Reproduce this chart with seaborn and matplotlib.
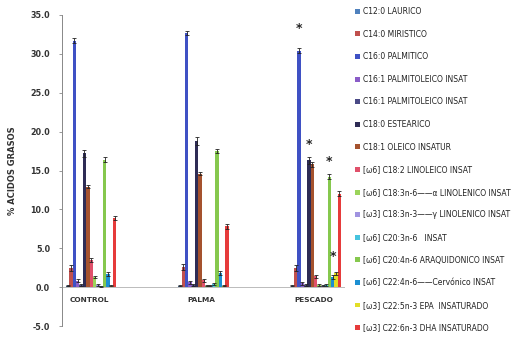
import pandas as pd
import numpy as np
import matplotlib
matplotlib.use('Agg')
import matplotlib.pyplot as plt
import seaborn as sns

# data
grupos = ['CONTROL', 'PALMA', 'PESCADO']

acidos = ['C12:0 LAURICO',
          'C14:0 MIRISTICO',
          'C16:0 PALMITICO',
          'C16:1 PALMITOLEICO INSAT',
          'C16:1 PALMITOLEICO INSAT ',
          'C18:0 ESTEARICO',
          'C18:1 OLEICO INSATUR',
          '[ω6] C18:2 LINOLEICO INSAT',
          '[ω6] C18:3n-6——α LINOLENICO INSAT',
          '[ω3] C18:3n-3——γ LINOLENICO INSAT',
          '[ω6] C20:3n-6   INSAT',
          '[ω6] C20:4n-6 ARAQUIDONICO INSAT',
          '[ω6] C22:4n-6——Cervónico INSAT',
          '[ω3] C22:5n-3 EPA  INSATURADO',
          '[ω3] C22:6n-3 DHA INSATURADO']

colores = ['#4F81BD', '#C0504D', '#3F51C4', '#8A5CC8', '#4A4A86',
           '#2E2C55', '#A5522E', '#E0506A', '#9BD45A', '#A093E0',
           '#46C3DE', '#86C84E', '#1C8FD2', '#E2DE26', '#E63B3B']

control = [0.2, 2.5, 31.7, 0.8, 0.3, 17.2, 12.9, 3.5, 1.3, 0.3, 0.1, 16.4, 1.7, 0.2, 8.9]
palma = [0.2, 2.6, 32.7, 0.6, 0.3, 18.8, 14.6, 0.9, 0.2, 0.2, 0.4, 17.5, 1.8, 0.2, 7.8]
pescado = [0.2, 2.5, 30.4, 0.5, 0.3, 16.3, 15.8, 1.4, 0.3, 0.2, 0.3, 14.2, 1.3, 1.8, 12.0]

err_control = [0.1, 0.4, 0.3, 0.2, 0.1, 0.5, 0.2, 0.3, 0.1, 0.1, 0.1, 0.3, 0.3, 0.1, 0.3]
err_palma = [0.1, 0.4, 0.3, 0.2, 0.1, 0.5, 0.2, 0.2, 0.1, 0.1, 0.1, 0.3, 0.3, 0.1, 0.3]
err_pescado = [0.1, 0.4, 0.3, 0.2, 0.1, 0.5, 0.3, 0.2, 0.1, 0.1, 0.1, 0.3, 0.3, 0.2, 0.3]

# series of PESCADO marked with an asterisk, and where the star sits
estrellas = {2: 33.3, 5: 18.3, 11: 16.1, 12: 4.0}

valores = [control, palma, pescado]
errores = [err_control, err_palma, err_pescado]

rows = []
for g, vals, errs in zip(grupos, valores, errores):
    for a, v, e in zip(acidos, vals, errs):
        rows.append({'grupo': g, 'acido': a, 'valor': v, 'err': e})
df = pd.DataFrame(rows)

sns.set_style('white')
plt.rcParams['font.family'] = ['DejaVu Sans']

fig = plt.figure(figsize=(5.15, 3.39), dpi=100)
ax = fig.add_axes([62 / 515, 13 / 339, 283 / 515, 311 / 339])

sns.barplot(data=df, x='grupo', y='valor', hue='acido', hue_order=acidos,
            order=grupos, palette=colores, width=0.45, errorbar=None,
            saturation=1, linewidth=0, ax=ax)

# error bars and asterisks, placed from the drawn bars
for k, a in enumerate(acidos):
    for j, g in enumerate(grupos):
        p = ax.containers[k][j]
        xc = p.get_x() + p.get_width() / 2
        v = valores[j][k]
        e = errores[j][k]
        ax.errorbar(xc, v, yerr=e, fmt='none', ecolor='#222222',
                    elinewidth=0.6, capsize=1.2, capthick=0.6)
        if j == 2 and k in estrellas:
            ax.text(xc, estrellas[k], '*', ha='center', va='center',
                    fontsize=9, fontweight='bold', color='#222222')

ax.set_ylim(-5, 35)
ax.set_xlim(-0.26, 2.26)
ax.set_yticks(np.arange(-5, 35.1, 5))
ax.set_yticklabels([f'{t:.1f}' for t in np.arange(-5, 35.1, 5)],
                   fontsize=5.8, fontweight='bold', color='#333333')
ax.tick_params(axis='y', direction='out', length=2.5, width=0.6,
               color='#888888', pad=6, left=True)
ax.set_xticks([])
ax.set_xlabel('')
ax.set_ylabel('% ACIDOS GRASOS', fontsize=6, fontweight='bold',
              color='#333333', labelpad=10)

for s in ['top', 'right', 'bottom']:
    ax.spines[s].set_visible(False)
ax.spines['left'].set_color('#888888')
ax.spines['left'].set_linewidth(0.7)
ax.axhline(0, color='#bbbbbb', lw=0.7, zorder=0)

for i, g in enumerate(grupos):
    ax.text(i - 0.02, -1.6, g, ha='center', va='center', fontsize=5.3,
            fontweight='bold', color='#333333')

handles, labels = ax.get_legend_handles_labels()
leg = ax.legend(handles, [l.strip() for l in labels], loc='upper left',
                bbox_to_anchor=(355 / 515, 1 - 7 / 339), bbox_transform=fig.transFigure,
                frameon=False, fontsize=5.5, handlelength=0.6, handleheight=0.6,
                handletextpad=0.5, labelspacing=1.78, borderpad=0, borderaxespad=0)
for h in leg.legend_handles:
    h.set_linewidth(0)
for t in leg.get_texts():
    t.set_color('#222222')

fig.savefig('out.png', dpi=100)
